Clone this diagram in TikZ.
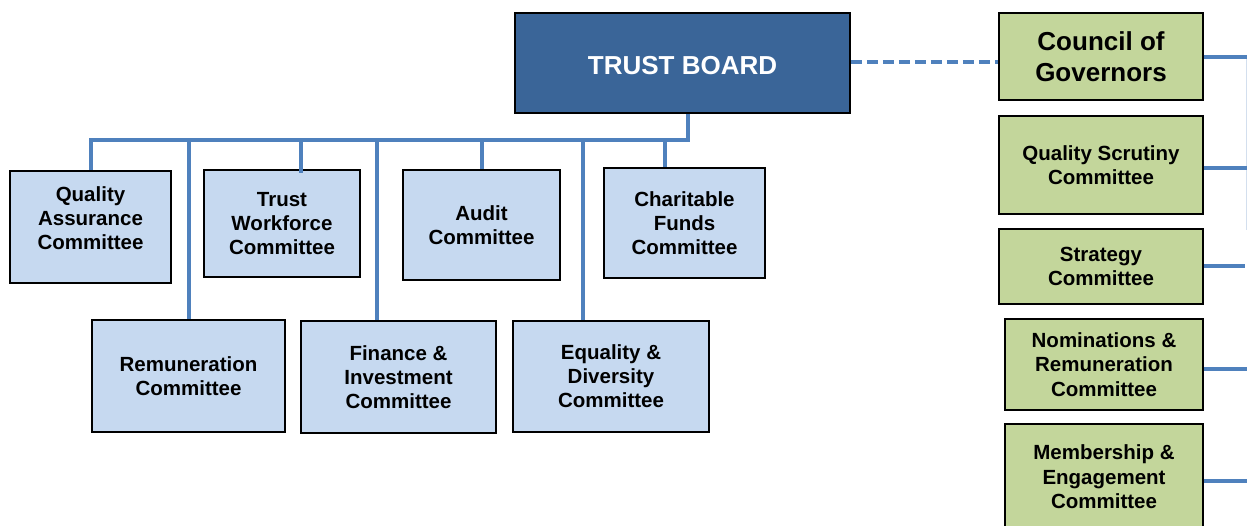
\documentclass[tikz,border=0pt]{standalone}
\usepackage{fontspec}
\setmainfont{Liberation Sans}
\definecolor{tbfill}{HTML}{3A6598}
\definecolor{bluefill}{HTML}{C6D9F0}
\definecolor{greenfill}{HTML}{C3D69B}
\definecolor{linkblue}{HTML}{4F81BD}
\begin{document}
\begin{tikzpicture}[x=1pt,y=-1pt,
  boxbase/.style={draw=black, line width=1.6pt, align=center, inner sep=2pt, font=\bfseries},
  bluebox/.style={boxbase, fill=bluefill, font=\fontsize{20.5}{24}\bfseries\selectfont},
  greenbox/.style={boxbase, fill=greenfill, font=\fontsize{20.5}{24.5}\bfseries\selectfont},
  bigbox/.style={boxbase, font=\fontsize{26}{31}\bfseries\selectfont},
  link/.style={draw=linkblue, line width=3.8pt},
  dashlink/.style={draw=linkblue, line width=3.8pt, dash pattern=on 11pt off 5pt},
  faint/.style={draw=linkblue!25, line width=1pt}]
\useasboundingbox (0,0) rectangle (1247,526);
% Trust board
\node[bigbox, fill=tbfill, text=white, minimum width=335pt, minimum height=100pt] (tb) at (682.5,63) {\raisebox{-3pt}[\height][\depth]{TRUST BOARD}};
% Governors side
\node[bigbox, fill=greenfill, minimum width=204pt, minimum height=87pt] (cog) at (1101,56.5) {Council of\\Governors};
\node[greenbox, minimum width=204pt, minimum height=98pt] (qs) at (1101,165) {Quality Scrutiny\\Committee};
\node[greenbox, minimum width=204pt, minimum height=75pt] (st) at (1101,266.5) {Strategy\\Committee};
\node[greenbox, minimum width=198pt, minimum height=91pt] (nr) at (1104,364.5) {Nominations \&\\Remuneration\\Committee};
\node[greenbox, minimum width=198pt, minimum height=106pt] (me) at (1104,477) {Membership \&\\Engagement\\Committee};
% Trust board committees
\node[bluebox, minimum width=161pt, minimum height=112pt] (qa) at (90.5,227) {Quality\\Assurance\\Committee\\[-6pt]\mbox{}};
\node[bluebox, minimum width=193pt, minimum height=112pt] (rc) at (188.5,376) {Remuneration\\Committee};
\node[bluebox, minimum width=156pt, minimum height=107pt] (tw) at (282,223.5) {Trust\\Workforce\\Committee};
\node[bluebox, minimum width=195pt, minimum height=112pt] (fi) at (398.5,377) {Finance \&\\Investment\\Committee};
\node[bluebox, minimum width=157pt, minimum height=110pt] (au) at (481.5,225) {Audit\\Committee};
\node[bluebox, minimum width=196pt, minimum height=111pt] (ed) at (611,376.5) {Equality \&\\Diversity\\Committee};
\node[bluebox, minimum width=161pt, minimum height=110pt] (cf) at (684.5,223) {Charitable\\Funds\\Committee};
% bus coordinates
\coordinate (bTB) at (688,140);
\coordinate (bQA) at (91,140);
\coordinate (bRC) at (189,140);
\coordinate (bTW) at (301,140);
\coordinate (bFI) at (377,140);
\coordinate (bAU) at (482,140);
\coordinate (bED) at (583,140);
\coordinate (bCF) at (665,140);
\draw[link] (bTB |- tb.south) -- (bTB) -- (bQA) -- (bQA |- qa.north);
\draw[link] (bRC) -- (bRC |- rc.north);
\draw[link] (bTW) -- ([yshift=-4pt]bTW |- tw.north);
\draw[link] (bFI) -- (bFI |- fi.north);
\draw[link] (bAU) -- (bAU |- au.north);
\draw[link] (bED) -- (bED |- ed.north);
\draw[link] (bCF) -- (bCF |- cf.north);
% dashed link
\draw[dashlink] (tb.east |- 0,62) -- (cog.west |- 0,62);
% right side connectors
\coordinate (rCOG) at (1250,57);
\coordinate (rQS) at (1250,168);
\coordinate (rST) at (1245,266);
\coordinate (rNR) at (1250,369);
\coordinate (rME) at (1250,481);
\draw[faint] (1246,57) -- (1246,230);
\draw[link] (cog.east |- rCOG) -- (rCOG);
\draw[link] (qs.east |- rQS) -- (rQS);
\draw[link] (st.east |- rST) -- (rST);
\draw[link] (nr.east |- rNR) -- (rNR);
\draw[link] (me.east |- rME) -- (rME);
\end{tikzpicture}
\end{document}
